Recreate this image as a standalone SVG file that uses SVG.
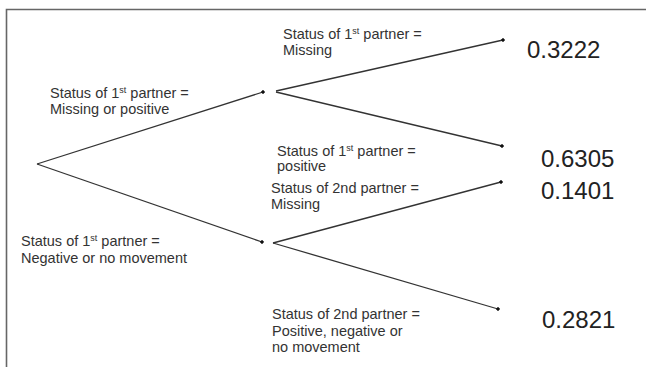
<svg xmlns="http://www.w3.org/2000/svg" width="646" height="367" viewBox="0 0 646 367">
<style>
.lbl{font-family:"Liberation Sans",Arial,sans-serif;font-size:14.5px;fill:#333}
.num{font-family:"Liberation Sans",Arial,sans-serif;font-size:24px;fill:#222}
.sup{font-size:9px}
.edge{stroke:#333;stroke-width:1.3;fill:none;marker-end:url(#dot)}
</style>
<defs>
<marker id="dot" viewBox="0 0 6 6" refX="3" refY="3" markerWidth="3.5" markerHeight="3.5" markerUnits="userSpaceOnUse" orient="auto">
<circle cx="3" cy="3" r="3" fill="#111"/>
</marker>
</defs>
<rect width="646" height="367" fill="#fff"/>
<path d="M6.5,367 V9.5 H646" fill="none" stroke="#666" stroke-width="1.6"/>
<g id="connectors">
<line class="edge" x1="37" y1="164" x2="263" y2="92"/>
<line class="edge" x1="37" y1="164" x2="262" y2="242"/>
<line class="edge" x1="276" y1="91" x2="503" y2="40"/>
<line class="edge" x1="276" y1="92" x2="502" y2="146"/>
<line class="edge" x1="273" y1="243" x2="501" y2="182"/>
<line class="edge" x1="273" y1="243" x2="498" y2="309"/>
</g>
<g id="label-upper-left">
<text class="lbl" x="50" y="98">Status of 1<tspan class="sup" dy="-5">st</tspan><tspan dy="5"> partner =</tspan></text>
<text class="lbl" x="50" y="113.5">Missing or positive</text>
</g>
<g id="label-lower-left">
<text class="lbl" x="21" y="246">Status of 1<tspan class="sup" dy="-5">st</tspan><tspan dy="5"> partner =</tspan></text>
<text class="lbl" x="21" y="262.5">Negative or no movement</text>
</g>
<g id="label-missing-1">
<text class="lbl" x="283" y="39">Status of 1<tspan class="sup" dy="-5">st</tspan><tspan dy="5"> partner =</tspan></text>
<text class="lbl" x="283" y="55">Missing</text>
</g>
<g id="label-positive-1">
<text class="lbl" x="277" y="156">Status of 1<tspan class="sup" dy="-5">st</tspan><tspan dy="5"> partner =</tspan></text>
<text class="lbl" x="277" y="171">positive</text>
</g>
<g id="label-missing-2">
<text class="lbl" x="271" y="193">Status of 2nd partner =</text>
<text class="lbl" x="271" y="209">Missing</text>
</g>
<g id="label-other-2">
<text class="lbl" x="272" y="319">Status of 2nd partner =</text>
<text class="lbl" x="272" y="336">Positive, negative or</text>
<text class="lbl" x="272" y="352">no movement</text>
</g>
<g id="p1"><text class="num" x="527" y="58">0.3222</text></g>
<g id="p2"><text class="num" x="541" y="167">0.6305</text></g>
<g id="p3"><text class="num" x="541" y="199">0.1401</text></g>
<g id="p4"><text class="num" x="542" y="328">0.2821</text></g>
</svg>
